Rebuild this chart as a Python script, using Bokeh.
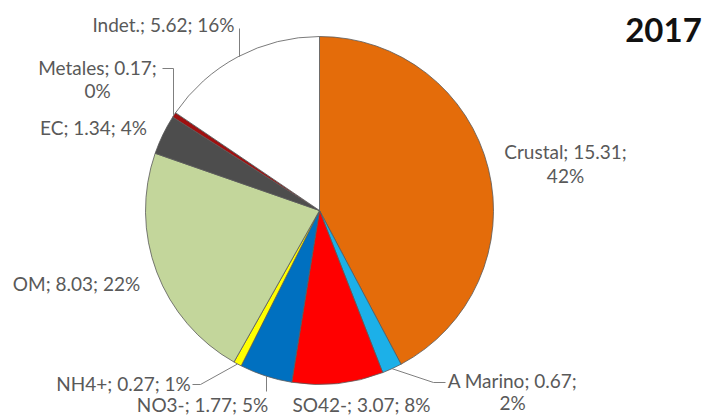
import math
from bokeh.plotting import figure
from bokeh.models import Range1d, ColumnDataSource
from bokeh.core.properties import value
from bokeh.embed import file_html
from bokeh.resources import INLINE

# ---- data ----
title = "2017"
categories = ["Crustal", "A Marino", "SO42-", "NO3-", "NH4+", "OM", "EC", "Metales", "Indet."]
values = [15.31, 0.67, 3.07, 1.77, 0.27, 8.03, 1.34, 0.17, 5.62]
colors = ["#E46C0A", "#1CB0E8", "#FF0000", "#0070C0", "#FFFF00", "#C3D69B", "#4D4D4D", "#A01010", "#FFFFFF"]

# ---- layout (reference pixel coords, y down) ----
W, H = 705, 416
CX, CY, R = 319, 210, 174
FONT = "Lato"
TXT = "#595959"

def Y(py):
    return H - py

p = figure(width=W, height=H, output_backend="svg", toolbar_location=None,
           x_range=Range1d(0, W), y_range=Range1d(0, H),
           min_border=0)
p.axis.visible = False
p.grid.visible = False
p.outline_line_color = None

total = sum(values)
starts, ends, mids = [], [], []
cum = 0.0
for v in values:
    a0 = math.pi / 2 - 2 * math.pi * cum / total
    cum += v
    a1 = math.pi / 2 - 2 * math.pi * cum / total
    starts.append(a0)
    ends.append(a1)
    mids.append((a0 + a1) / 2)

src = ColumnDataSource(dict(start=starts, end=ends, color=colors))
p.wedge(x=CX, y=Y(CY), radius=R, start_angle="start", end_angle="end",
        direction="clock", fill_color="color", line_color="#5a5a5a",
        line_width=1, line_alpha=0.8, source=src)

pcts = [round(v / total * 100) for v in values]

layout = {
    "Crustal":  dict(x=565, ys=[151, 175], brk=True),
    "A Marino": dict(x=512, ys=[380, 402], brk=True),
    "SO42-":    dict(x=361, ys=[404], brk=False),
    "NO3-":     dict(x=202, ys=[404], brk=False),
    "NH4+":     dict(x=123, ys=[383], brk=False),
    "OM":       dict(x=76, ys=[283], brk=False),
    "EC":       dict(x=93, ys=[127], brk=False),
    "Metales":  dict(x=97, ys=[67, 90], brk=True),
    "Indet.":   dict(x=163, ys=[24], brk=False),
}

tx, ty, tt = [], [], []
for c, v, pc in zip(categories, values, pcts):
    L = layout[c]
    if L["brk"]:
        lines = [f"{c}; {v:.2f};", f"{pc}%"]
    else:
        lines = [f"{c}; {v:.2f}; {pc}%"]
    for ln, yy in zip(lines, L["ys"]):
        tx.append(L["x"])
        ty.append(Y(yy))
        tt.append(ln)

p.text(x=tx, y=ty, text=tt, text_font=value(FONT), text_font_size="19px",
       text_color=TXT, text_align="center", text_baseline="middle")

def edge(i):
    a = mids[i]
    return CX + R * math.cos(a), CY - R * math.sin(a)

leaders = {
    "Indet.":   [(239, 28)],
    "Metales":  [(173, 68), (162, 68)],
    "NH4+":     [(200, 384), (192, 384)],
    "NO3-":     [(266, 391)],
    "A Marino": [(433, 382), (445, 382)],
}
xs, ys = [], []
for c, pts in leaders.items():
    i = categories.index(c)
    ex, ey = edge(i)
    if c in ("Indet.", "NO3-", "Metales"):
        ex = pts[0][0]
    seq = [(ex, ey)] + pts
    xs.append([q[0] for q in seq])
    ys.append([Y(q[1]) for q in seq])
p.multi_line(xs=xs, ys=ys, line_color="#7f7f7f", line_width=1)

p.text(x=[663], y=[Y(29)], text=[title], text_font=value(FONT), text_font_size="33px",
       text_font_style="bold", text_color="#111111", text_align="center", text_baseline="middle")

open("out.html", "w").write(file_html(p, INLINE))
